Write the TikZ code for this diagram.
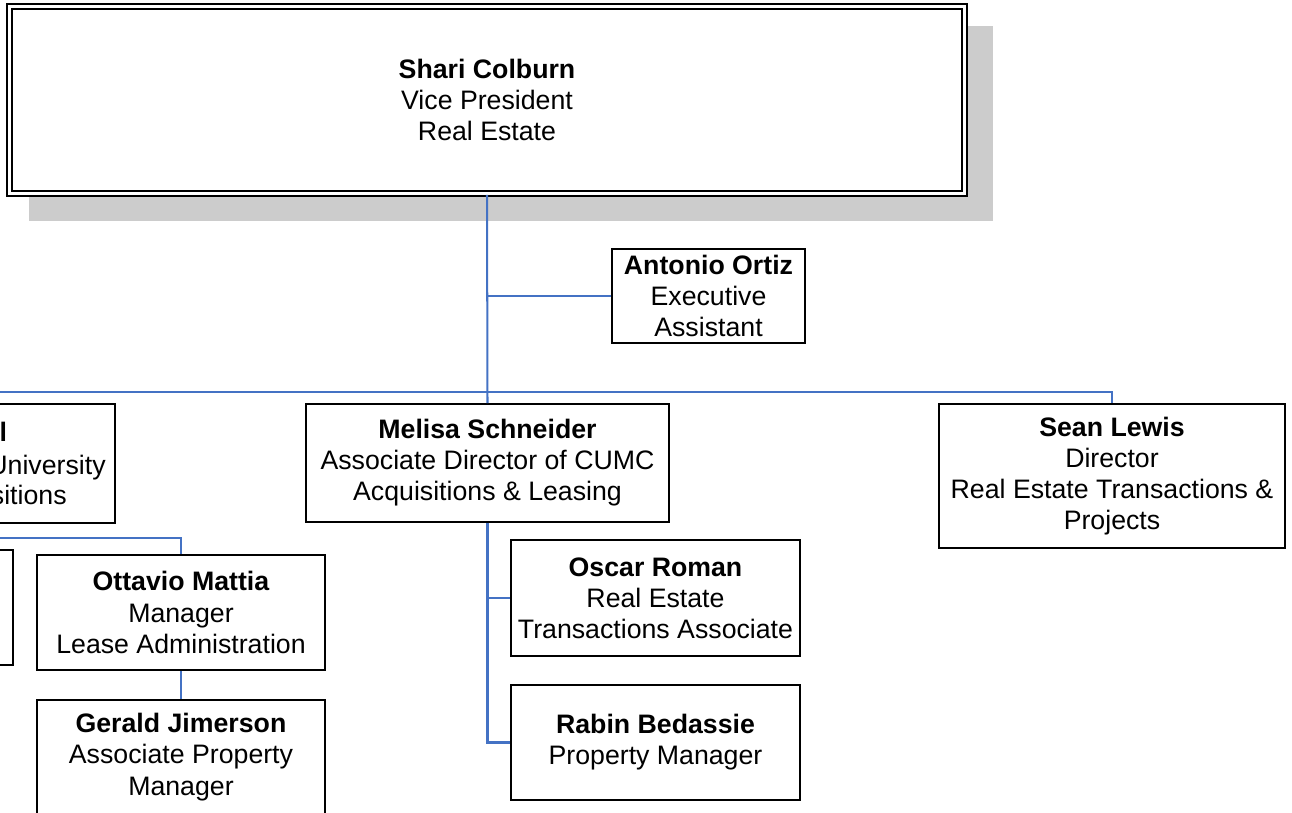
\documentclass[tikz,border=0pt]{standalone}
\usepackage{fontspec}
\setmainfont{Liberation Sans}
\usepackage{tikz}

\definecolor{linkblue}{HTML}{4472C4}
\definecolor{shadowgray}{HTML}{CCCCCC}

\begin{document}
\begin{tikzpicture}
            [x=0.02cm,y=-0.02cm,
             every node/.style={font=\fontsize{15.2pt}{17.7pt}\selectfont,align=center,inner sep=0pt},
             person/.style={draw,rectangle,line width=1.1pt,fill=white},
             link/.style={draw=linkblue,line width=1.15pt}]
            \useasboundingbox (0,0) rectangle (1292,813);
            \clip (0,0) rectangle (1292,813);
            % shadow of the head box
            \fill[shadowgray] (29,26) rectangle (993,221);
            \node[person,double,double distance=0.06cm,line width=0.04cm,minimum width=19.11cm,minimum height=3.76cm] (top) at (487,100)
                {\textbf{Shari Colburn}\\Vice President\\Real Estate};
            \node[person,minimum width=3.86cm,minimum height=1.88cm] (antonio) at (708.5,296)
                {\textbf{Antonio Ortiz}\\Executive\\Assistant};
            \node[person,minimum width=7.26cm,minimum height=2.36cm] (melisa) at (487.5,463)
                {\textbf{Melisa Schneider}\\Associate Director of CUMC\\Acquisitions \& Leasing};
            \node[person,minimum width=6.92cm,minimum height=2.88cm] (sean) at (1112,476)
                {\textbf{Sean Lewis}\\Director\\Real Estate Transactions \&\\Projects};
            \node[person,minimum width=7.28cm,minimum height=2.38cm] (leftbox) at (-67,463.5) {};
            \node[anchor=base east] (leftname) at (7.5,442) {\textbf{l}};
            \node[anchor=base east] (lefttitle) at (106,475) {University};
            \node[anchor=base east] (leftdept) at (67,505) {sitions};
            \node[person,minimum width=5.76cm,minimum height=2.3cm] (leftsub) at (-131,607.5) {};
            \node[person,minimum width=5.76cm,minimum height=2.3cm] (ottavio) at (181,612.5)
                {\textbf{Ottavio Mattia}\\Manager\\Lease Administration};
            \node[person,minimum width=5.76cm,minimum height=2.28cm] (gerald) at (181,757)
                {\textbf{Gerald Jimerson}\\Associate Property\\Manager};
            \node[person,minimum width=5.78cm,minimum height=2.32cm] (oscar) at (655.5,598)
                {\textbf{Oscar Roman}\\Real Estate\\Transactions Associate};
            \node[person,minimum width=5.78cm,minimum height=2.3cm] (rabin) at (655.5,742.5)
                {\textbf{Rabin Bedassie}\\Property Manager};
            \coordinate (bus) at (487.5,392);
            \coordinate (busleft) at (-10,392);
            \coordinate (subleft) at (-10,538);
            % the links
            \draw[link] (top.south) -- (melisa.north);
            \draw[link] (top.south |- antonio.west) -- (antonio.west);
            \draw[link] (busleft) -- (bus) -| (sean.north);
            \draw[link] (subleft) -| (ottavio.north);
            \draw[link] (ottavio.south) -- (gerald.north);
            \draw[link] (melisa.south) |- (oscar.west);
            \draw[link] (melisa.south) |- (rabin.west);
        \end{tikzpicture}
\end{document}
